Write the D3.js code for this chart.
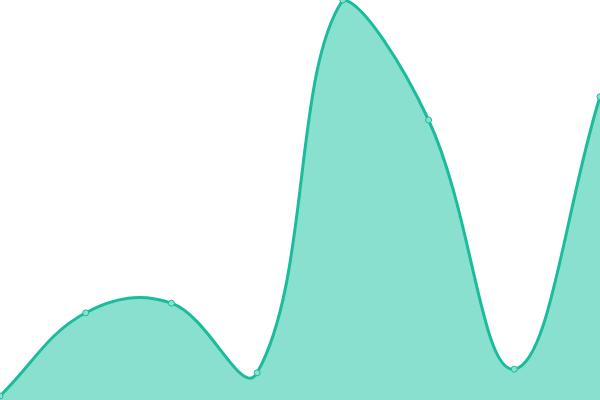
<!DOCTYPE html>
<html>
<head>
<meta charset="utf-8">
<script src="https://cdn.jsdelivr.net/npm/d3@7"></script>
<style>
  html, body { margin: 0; padding: 0; background: #fff; overflow: hidden; }
</style>
</head>
<body>
<div id="chart"></div>
<script>
// Chart area
var svgWidth = 600;
var svgHeight = 400;
var tension = 0.4;

// Data
const labels = ["A", "B", "C", "D", "E", "F", "G", "H"];
const values = [1, 21.8, 24.2, 6.8, 100, 70, 7.7, 75.8];

var svg = d3.select("#chart")
  .append("svg")
  .attr("width", svgWidth)
  .attr("height", svgHeight);

var xScale = d3.scalePoint()
  .domain(labels)
  .range([0, svgWidth]);

var yScale = d3.scaleLinear()
  .domain([0, 100])
  .range([svgHeight, 0]);

var points = labels.map((l, i) => ({ x: xScale(l), y: yScale(values[i]) }));

// spline control points, weighted by segment length and kept inside the area
function clamp(v, lo, hi) { return Math.max(lo, Math.min(hi, v)); }

function controlPoints(pts) {
  return pts.map((p, i) => {
    var p0 = pts[i - 1] || p;
    var p2 = pts[i + 1] || p;
    var d01 = Math.hypot(p.x - p0.x, p.y - p0.y);
    var d12 = Math.hypot(p2.x - p.x, p2.y - p.y);
    var s01 = d01 / (d01 + d12) || 0;
    var s12 = d12 / (d01 + d12) || 0;
    var fa = tension * s01, fb = tension * s12;
    return {
      prev: { x: clamp(p.x - fa * (p2.x - p0.x), 0, svgWidth), y: clamp(p.y - fa * (p2.y - p0.y), 0, svgHeight) },
      next: { x: clamp(p.x + fb * (p2.x - p0.x), 0, svgWidth), y: clamp(p.y + fb * (p2.y - p0.y), 0, svgHeight) }
    };
  });
}

function splinePath(pts, path) {
  var cps = controlPoints(pts);
  path.moveTo(pts[0].x, pts[0].y);
  for (let i = 1; i < pts.length; i++) {
    path.bezierCurveTo(cps[i - 1].next.x, cps[i - 1].next.y, cps[i].prev.x, cps[i].prev.y, pts[i].x, pts[i].y);
  }
  return path;
}

// filled area under the curve
var areaPath = splinePath(points, d3.path());
areaPath.lineTo(points[points.length - 1].x, svgHeight);
areaPath.lineTo(points[0].x, svgHeight);
areaPath.closePath();

svg.append("path")
  .attr("d", areaPath.toString())
  .attr("fill", "#8ae0cf");

// line on top
svg.append("path")
  .attr("d", splinePath(points, d3.path()).toString())
  .attr("fill", "none")
  .attr("stroke", "#1abc9c")
  .attr("stroke-width", 3);

// point markers
svg.selectAll("circle")
  .data(points)
  .enter()
  .append("circle")
  .attr("cx", d => d.x)
  .attr("cy", d => d.y)
  .attr("r", 3)
  .attr("fill", "#8ae0cf")
  .attr("stroke", "#1abc9c")
  .attr("stroke-width", 1);
</script>
</body>
</html>
